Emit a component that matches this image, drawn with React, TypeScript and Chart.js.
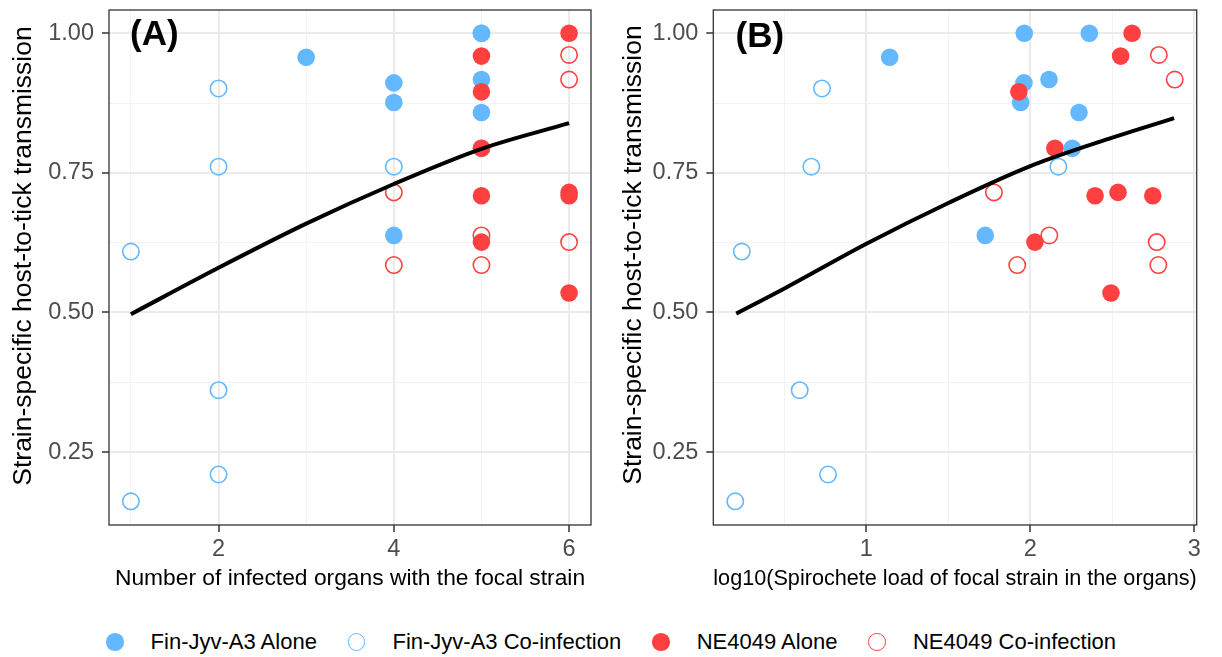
import React, { useEffect, useRef } from 'react';
import { Chart, registerables } from 'chart.js';

Chart.register(...registerables);

const FONT = "'Liberation Sans', Arial, Helvetica, sans-serif";
const BLUE = '#63B8FF';
const RED = '#FF4040';

// ---- Data ----
// Fin-Jyv-A3 alone
const finAloneY = [0.957, 1.0, 1.0, 0.911, 0.876, 0.917, 0.858, 0.794, 0.638];
const finAloneOrgans = [3, 5, 5, 4, 4, 5, 5, 5, 4];
const finAloneLoad = [1.142, 1.963, 2.36, 1.961, 1.941, 2.114, 2.297, 2.256, 1.725];
// Fin-Jyv-A3 co-infection
const finCoY = [0.609, 0.162, 0.901, 0.761, 0.361, 0.21, 0.761];
const finCoOrgans = [1, 1, 2, 2, 2, 2, 4];
const finCoLoad = [0.24, 0.2, 0.729, 0.664, 0.593, 0.766, 2.171];
// NE4049 alone
const neAloneY = [1.0, 0.959, 0.895, 0.794, 0.709, 0.715, 0.709, 0.626, 0.535];
const neAloneOrgans = [6, 5, 5, 5, 5, 6, 6, 5, 6];
const neAloneLoad = [2.621, 2.551, 1.93, 2.15, 2.395, 2.535, 2.747, 2.028, 2.492];
// NE4049 co-infection
const neCoY = [0.961, 0.917, 0.715, 0.638, 0.585, 0.626, 0.585];
const neCoOrgans = [6, 6, 4, 5, 4, 6, 5];
const neCoLoad = [2.784, 2.881, 1.778, 2.116, 1.92, 2.771, 2.781];

// Fitted curves
const curveOrgansX = [1, 2, 3, 4, 5, 6];
const curveOrgansY = [0.497, 0.58, 0.659, 0.73, 0.793, 0.839];
const curveLoadX = [0.206, 0.5, 1.0, 1.5, 2.0, 2.5, 2.877];
const curveLoadY = [0.498, 0.543, 0.623, 0.696, 0.762, 0.813, 0.848];

// Ticks
const yMajorTicks = [0.25, 0.5, 0.75, 1.0];
const yMinorTicks = [0.375, 0.625, 0.875];
const organsMajorTicks = [2, 4, 6];
const organsMinorTicks = [1, 3, 5];
const loadMajorTicks = [1, 2, 3];
const loadMinorTicks = [0.5, 1.5, 2.5];

// Axis ranges
const yRange = [0.1196, 1.0415];
const organsRange = [0.75, 6.25];
const loadRange = [0.066, 3.015];

const Y_TITLE = 'Strain-specific host-to-tick transmission';
const legendItems = [
  { label: 'Fin-Jyv-A3 Alone', color: BLUE, filled: true },
  { label: 'Fin-Jyv-A3 Co-infection', color: BLUE, filled: false },
  { label: 'NE4049 Alone', color: RED, filled: true },
  { label: 'NE4049 Co-infection', color: RED, filled: false },
];

const pts = (xs: number[], ys: number[]) => xs.map((x, i) => ({ x, y: ys[i] }));

const decorPlugin = {
  id: 'decor',
  afterDraw(chart: any, _args: any, opts: any) {
    const { ctx, chartArea: ca } = chart;
    ctx.save();
    ctx.strokeStyle = '#333333';
    ctx.lineWidth = 1.3;
    ctx.strokeRect(ca.left, ca.top, ca.right - ca.left, ca.bottom - ca.top);
    ctx.restore();

    ctx.save();
    ctx.translate(opts.yTitleX, opts.yTitleY);
    ctx.rotate(-Math.PI / 2);
    ctx.font = `26.5px ${FONT}`;
    ctx.fillStyle = '#000000';
    ctx.textAlign = 'center';
    ctx.textBaseline = 'middle';
    ctx.fillText(opts.yTitle, 0, 0);
    ctx.restore();

    ctx.save();
    ctx.font = `bold 35px ${FONT}`;
    ctx.fillStyle = '#000000';
    ctx.textAlign = 'left';
    ctx.textBaseline = 'alphabetic';
    ctx.fillText(opts.label, opts.labelX, opts.labelY);
    ctx.restore();
  },
};

type PanelProps = {
  left: number;
  width: number;
  height: number;
  yAxisWidth: number;
  padRight: number;
  xTitle: string;
  label: string;
  labelX: number;
  labelY: number;
  yTitleX: number;
  yTitleY: number;
  xRange: number[];
  xMajor: number[];
  xMinor: number[];
  xFormat: (v: number) => string;
  finAloneX: number[];
  finCoX: number[];
  neAloneX: number[];
  neCoX: number[];
  curveX: number[];
  curveY: number[];
};

function gridOpts(major: number[]) {
  const isMajor = (c: any) => c && c.tick && major.includes(c.tick.value);
  return {
    color: (c: any) => (isMajor(c) ? '#EBEBEB' : '#F3F3F3'),
    lineWidth: (c: any) => (isMajor(c) ? 2 : 1),
    tickColor: (c: any) => (isMajor(c) ? '#333333' : 'rgba(0,0,0,0)'),
    tickWidth: 1.5,
    tickLength: 7,
    drawTicks: true,
  };
}

function zeroPad(s: any) {
  s.paddingTop = 0;
  s.paddingBottom = 0;
  s.paddingLeft = 0;
  s.paddingRight = 0;
}

function Panel(p: PanelProps) {
  const ref = useRef<HTMLCanvasElement | null>(null);
  useEffect(() => {
    if (!ref.current) return;
    const chart = new Chart(ref.current, {
      type: 'scatter',
      data: {
        datasets: [
          {
            label: 'curve',
            data: pts(p.curveX, p.curveY),
            showLine: true,
            borderColor: '#000000',
            borderWidth: 4,
            pointRadius: 0,
            cubicInterpolationMode: 'monotone',
            borderCapStyle: 'butt',
            order: 0,
          },
          {
            label: 'NE4049 Alone',
            data: pts(p.neAloneX, neAloneY),
            backgroundColor: RED,
            borderColor: RED,
            borderWidth: 0,
            pointRadius: 8.8,
            order: 1,
          },
          {
            label: 'NE4049 Co-infection',
            data: pts(p.neCoX, neCoY),
            backgroundColor: 'rgba(0,0,0,0)',
            borderColor: RED,
            borderWidth: 1.6,
            pointRadius: 8.2,
            order: 2,
          },
          {
            label: 'Fin-Jyv-A3 Co-infection',
            data: pts(p.finCoX, finCoY),
            backgroundColor: 'rgba(0,0,0,0)',
            borderColor: BLUE,
            borderWidth: 1.6,
            pointRadius: 8.2,
            order: 3,
          },
          {
            label: 'Fin-Jyv-A3 Alone',
            data: pts(p.finAloneX, finAloneY),
            backgroundColor: BLUE,
            borderColor: BLUE,
            borderWidth: 0,
            pointRadius: 8.8,
            order: 4,
          },
        ],
      } as any,
      options: {
        responsive: false,
        animation: false,
        events: [],
        layout: { padding: { left: 0, top: 10, right: p.padRight, bottom: 0 } },
        plugins: {
          legend: { display: false },
          tooltip: { enabled: false },
          decor: {
            yTitle: Y_TITLE,
            yTitleX: p.yTitleX,
            yTitleY: p.yTitleY,
            label: p.label,
            labelX: p.labelX,
            labelY: p.labelY,
          },
        } as any,
        scales: {
          x: {
            type: 'linear',
            min: p.xRange[0],
            max: p.xRange[1],
            afterBuildTicks: (s: any) => {
              s.ticks = [...p.xMajor, ...p.xMinor].sort((a, b) => a - b).map((v) => ({ value: v }));
            },
            afterFit: (s: any) => {
              s.height = 75;
              zeroPad(s);
            },
            ticks: {
              autoSkip: false,
              maxRotation: 0,
              padding: 3,
              color: '#4D4D4D',
              font: { family: FONT, size: 23.5 },
              callback: (v: any) => (p.xMajor.includes(v) ? p.xFormat(v) : ''),
            },
            grid: gridOpts(p.xMajor),
            border: { display: false },
            title: {
              display: true,
              text: p.xTitle,
              color: '#000000',
              font: { family: FONT, size: 22.8 },
              padding: { top: 0, bottom: 7.3 },
            },
          },
          y: {
            type: 'linear',
            min: yRange[0],
            max: yRange[1],
            afterBuildTicks: (s: any) => {
              s.ticks = [...yMajorTicks, ...yMinorTicks].sort((a, b) => a - b).map((v) => ({ value: v }));
            },
            afterFit: (s: any) => {
              s.width = p.yAxisWidth;
              zeroPad(s);
            },
            ticks: {
              autoSkip: false,
              padding: 8,
              color: '#4D4D4D',
              font: { family: FONT, size: 23.5 },
              callback: (v: any) => (yMajorTicks.includes(v) ? Number(v).toFixed(2) : ''),
            },
            grid: gridOpts(yMajorTicks),
            border: { display: false },
            title: { display: false },
          },
        } as any,
      },
      plugins: [decorPlugin as any],
    });
    return () => chart.destroy();
  }, []);
  return (
    <canvas
      ref={ref}
      width={p.width}
      height={p.height}
      style={{ position: 'absolute', left: p.left, top: 0, width: p.width, height: p.height, display: 'block' }}
    />
  );
}

function Legend() {
  return (
    <div
      style={{
        position: 'absolute',
        left: 0,
        top: 626,
        width: 1222,
        height: 32,
        display: 'flex',
        alignItems: 'center',
        justifyContent: 'center',
        fontFamily: FONT,
        fontSize: 22,
        color: '#000',
        whiteSpace: 'nowrap',
      }}
    >
      {legendItems.map((it, i) => (
        <div key={it.label} style={{ display: 'flex', alignItems: 'center', marginLeft: i === 0 ? 0 : 31 }}>
          <div
            style={{
              width: 17.6,
              height: 17.6,
              boxSizing: 'border-box',
              borderRadius: '50%',
              background: it.filled ? it.color : 'transparent',
              border: it.filled ? 'none' : `1.6px solid ${it.color}`,
              marginRight: 27,
            }}
          />
          <span>{it.label}</span>
        </div>
      ))}
    </div>
  );
}

export default function App() {
  return (
    <div style={{ position: 'absolute', left: 0, top: 0, width: 1222, height: 657, background: '#fff', overflow: 'hidden' }}>
      <Panel
        left={0}
        width={606}
        height={600}
        yAxisWidth={109}
        padRight={15}
        xTitle="Number of infected organs with the focal strain"
        label="(A)"
        labelX={130}
        labelY={45}
        yTitleX={24}
        yTitleY={256}
        xRange={organsRange}
        xMajor={organsMajorTicks}
        xMinor={organsMinorTicks}
        xFormat={(v) => String(v)}
        finAloneX={finAloneOrgans}
        finCoX={finCoOrgans}
        neAloneX={neAloneOrgans}
        neCoX={neCoOrgans}
        curveX={curveOrgansX}
        curveY={curveOrgansY}
      />
      <Panel
        left={606}
        width={616}
        height={600}
        yAxisWidth={107.3}
        padRight={25.3}
        xTitle="log10(Spirochete load of focal strain in the organs)"
        label="(B)"
        labelX={129.5}
        labelY={47}
        yTitleX={28}
        yTitleY={255}
        xRange={loadRange}
        xMajor={loadMajorTicks}
        xMinor={loadMinorTicks}
        xFormat={(v) => String(v)}
        finAloneX={finAloneLoad}
        finCoX={finCoLoad}
        neAloneX={neAloneLoad}
        neCoX={neCoLoad}
        curveX={curveLoadX}
        curveY={curveLoadY}
      />
      <Legend />
    </div>
  );
}
